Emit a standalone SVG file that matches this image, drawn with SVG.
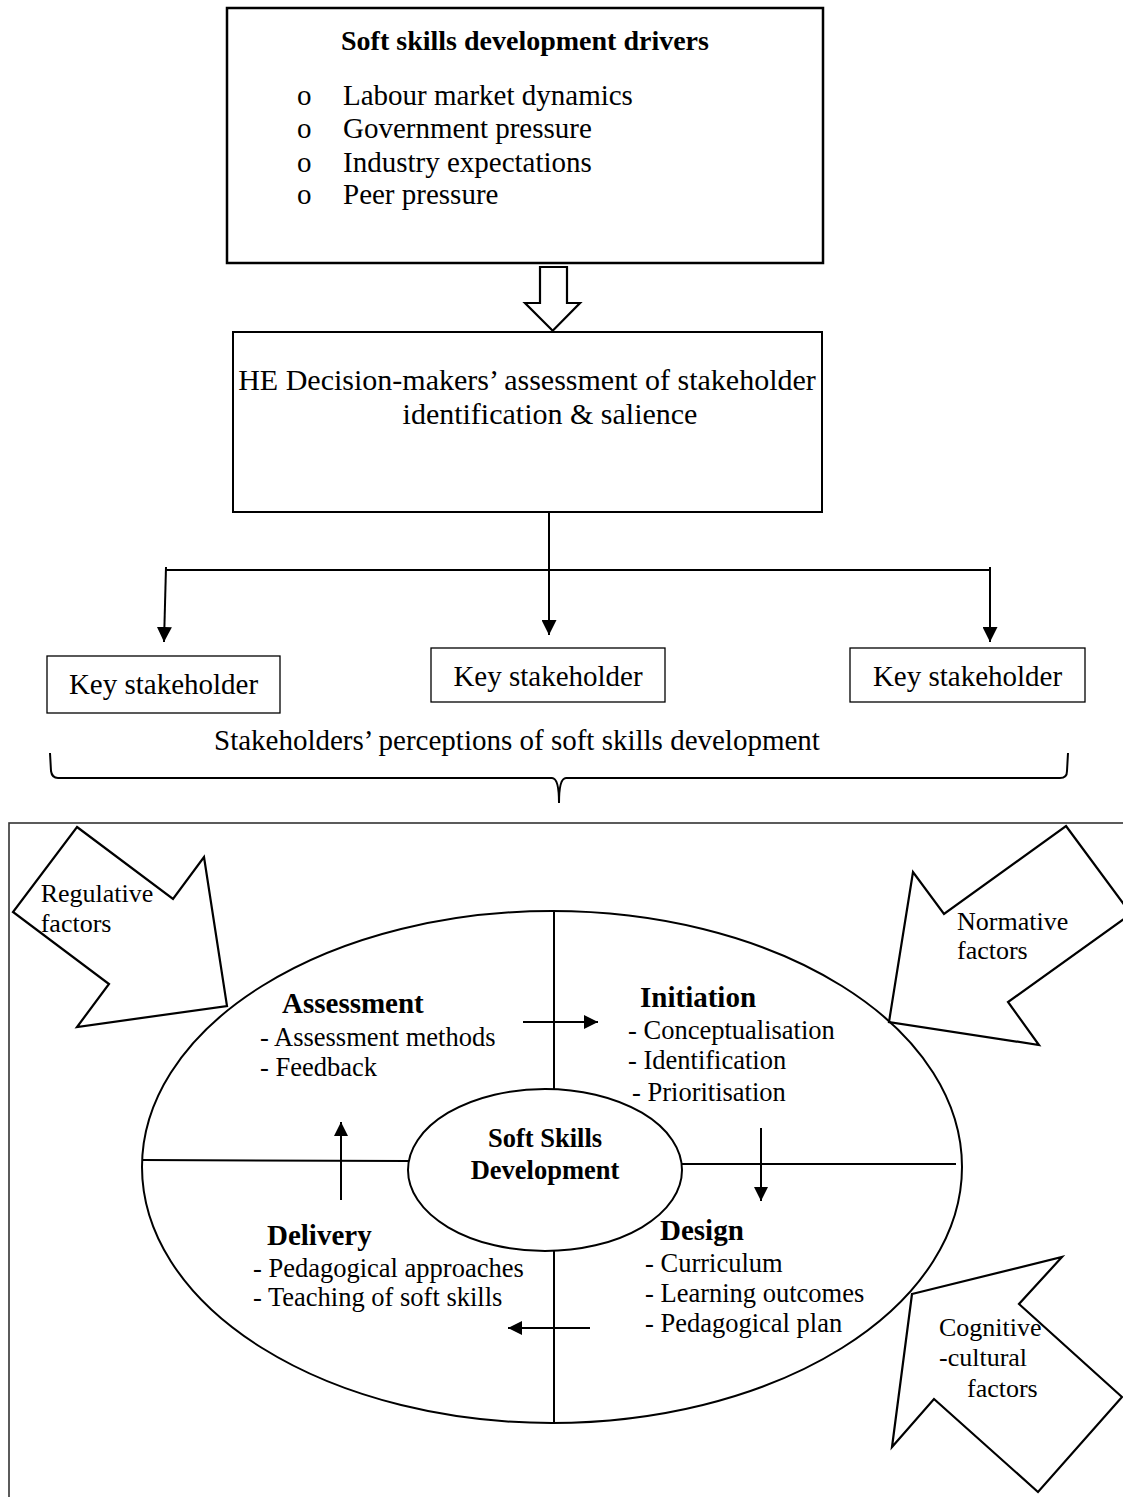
<svg xmlns="http://www.w3.org/2000/svg" width="1123" height="1497" viewBox="0 0 1123 1497">
<defs>
<style>
.t{font-family:"Liberation Serif","Times New Roman",serif;fill:#000}
.r29{font-size:29px}
.r30{font-size:30px}
.b29{font-size:29px;font-weight:bold}
.r26{font-size:26.5px}
.f26{font-size:26px}
.box{fill:#fff;stroke:#000}
.ln{fill:none;stroke:#000;stroke-width:2}
.shape{fill:#fff;stroke:#000;stroke-width:2.2;stroke-linejoin:miter}
</style>
<marker id="ah" viewBox="0 0 10 10" refX="10" refY="5" markerWidth="15" markerHeight="15" markerUnits="userSpaceOnUse" orient="auto"><path d="M0,0 L10,5 L0,10 z" fill="#000"/></marker>
<marker id="ahs" viewBox="0 0 10 10" refX="10" refY="5" markerWidth="14" markerHeight="14" markerUnits="userSpaceOnUse" orient="auto"><path d="M0,0 L10,5 L0,10 z" fill="#000"/></marker>
</defs>
<rect width="1123" height="1497" fill="#fff"/>

<g id="drivers">
<rect class="box" x="227" y="8" width="596" height="255" stroke-width="2.5"/>
<text class="t b29" x="525" y="50" text-anchor="middle" style="font-size:28px">Soft skills development drivers</text>
<text class="t r29" x="297" y="105">o</text><text class="t r29" x="343" y="105">Labour market dynamics</text>
<text class="t r29" x="297" y="138">o</text><text class="t r29" x="343" y="138">Government pressure</text>
<text class="t r29" x="297" y="172">o</text><text class="t r29" x="343" y="172">Industry expectations</text>
<text class="t r29" x="297" y="204">o</text><text class="t r29" x="343" y="204">Peer pressure</text>
</g>

<g id="hollow-arrow">
<polygon class="shape" stroke-width="2" points="540,267 567,267 567,303 580,303 552.7,330.7 525,303 540,303"/>
</g>

<g id="decision-makers">
<rect class="box" x="233" y="332" width="589" height="180" stroke-width="2"/>
<text class="t r30" x="527" y="390" text-anchor="middle">HE Decision-makers’ assessment of stakeholder</text>
<text class="t r30" x="550" y="424" text-anchor="middle">identification &amp; salience</text>
</g>

<g id="stakeholder-1">
<rect class="box" x="47" y="656" width="233" height="57" stroke-width="1.3"/>
<text class="t r29" x="163.5" y="694" text-anchor="middle">Key stakeholder</text>
</g>
<g id="stakeholder-2">
<rect class="box" x="431" y="648" width="234" height="54" stroke-width="1.3"/>
<text class="t r29" x="548" y="686" text-anchor="middle">Key stakeholder</text>
</g>
<g id="stakeholder-3">
<rect class="box" x="850" y="648" width="235" height="54" stroke-width="1.3"/>
<text class="t r29" x="967.5" y="686" text-anchor="middle">Key stakeholder</text>
</g>

<g id="perceptions">
<text class="t r29" x="214" y="750">Stakeholders’ perceptions of soft skills development</text>
<path class="ln" d="M50,753 L51,771 Q52,778 58,778 L552,778 Q559,778 559,803 Q559,778 566,778 L1060,778 Q1067,778 1067,771 L1068,753"/>
</g>

<g id="frame">
<rect x="9" y="823" width="1140" height="700" fill="none" stroke="#333" stroke-width="1.6"/>
</g>

<g id="regulative">
<polygon class="shape" points="77,827 173,899 204,857 227,1006 77,1027 109,984 13,912"/>
<text class="t f26" x="40.7" y="902">Regulative</text>
<text class="t f26" x="40.7" y="932">factors</text>
</g>

<g id="normative">
<polygon class="shape" points="1066,826 1131,914 1008,1002 1039,1045 889,1022 913,872 944,914"/>
<text class="t f26" x="957" y="930">Normative</text>
<text class="t f26" x="957" y="959">factors</text>
</g>

<g id="cycle">
<ellipse class="ln" cx="552" cy="1167" rx="410" ry="256" fill="none"/>
</g>

<g id="cognitive">
<polygon class="shape" points="912,1294 1062,1257 1019,1304 1122,1397 1038,1492 934,1399 892,1447"/>
<text class="t f26" x="939" y="1336">Cognitive</text>
<text class="t f26" x="939" y="1366">-cultural</text>
<text class="t f26" x="967" y="1397">factors</text>
</g>

<g id="connectors">
<line class="ln" x1="549" y1="512" x2="549" y2="635" marker-end="url(#ah)"/>
<line class="ln" x1="165" y1="570" x2="990" y2="570"/>
<line class="ln" x1="166" y1="567" x2="164" y2="642" marker-end="url(#ah)"/>
<line class="ln" x1="990" y1="567" x2="990" y2="642" marker-end="url(#ah)"/>
<line class="ln" x1="554" y1="911" x2="554" y2="1089"/>
<line class="ln" x1="554" y1="1251" x2="554" y2="1423"/>
<line class="ln" x1="142" y1="1160" x2="409" y2="1161"/>
<line class="ln" x1="682" y1="1164" x2="956" y2="1164"/>
<line class="ln" x1="523" y1="1022" x2="598" y2="1022" marker-end="url(#ahs)"/>
<line class="ln" x1="761" y1="1128" x2="761" y2="1201" marker-end="url(#ahs)"/>
<line class="ln" x1="590" y1="1328" x2="508" y2="1328" marker-end="url(#ahs)"/>
<line class="ln" x1="341" y1="1200" x2="341" y2="1122" marker-end="url(#ahs)"/>
</g>

<g id="core">
<ellipse class="box" cx="545" cy="1170" rx="137" ry="81" stroke-width="2"/>
<text class="t" x="545" y="1147" text-anchor="middle" font-size="26.5" font-weight="bold">Soft Skills</text>
<text class="t" x="545" y="1179" text-anchor="middle" font-size="26.5" font-weight="bold">Development</text>
</g>

<g id="assessment">
<text class="t b29" x="282" y="1013">Assessment</text>
<text class="t r26" x="260" y="1046">- Assessment methods</text>
<text class="t r26" x="260" y="1076">- Feedback</text>
</g>
<g id="initiation">
<text class="t b29" x="640" y="1007">Initiation</text>
<text class="t r26" x="628" y="1039">- Conceptualisation</text>
<text class="t r26" x="628" y="1069">- Identification</text>
<text class="t r26" x="632" y="1101">- Prioritisation</text>
</g>
<g id="delivery">
<text class="t b29" x="267" y="1245">Delivery</text>
<text class="t r26" x="253" y="1277">- Pedagogical approaches</text>
<text class="t r26" x="253" y="1306">- Teaching of soft skills</text>
</g>
<g id="design">
<text class="t b29" x="660" y="1240">Design</text>
<text class="t r26" x="645" y="1272">- Curriculum</text>
<text class="t r26" x="645" y="1302">- Learning outcomes</text>
<text class="t r26" x="645" y="1332">- Pedagogical plan</text>
</g>
</svg>
